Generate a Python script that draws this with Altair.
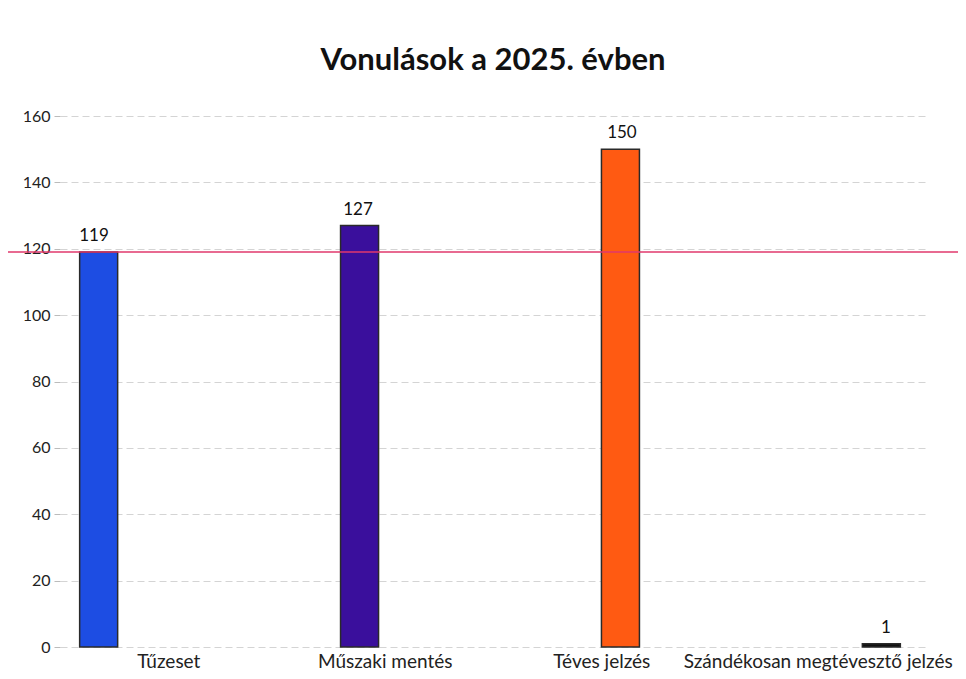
import altair as alt
import pandas as pd

categories = ["Tűzeset", "Műszaki mentés", "Téves jelzés", "Szándékosan megtévesztő jelzés"]
values = [119, 127, 150, 1]
positions = [0, 1, 2, 3]
colors = ["#1d4de3", "#3a0f9c", "#ff5a12", "#111111"]
reference_value = [119]
y_ticks = [0, 20, 40, 60, 80, 100, 120, 140, 160]

df = pd.DataFrame({"cat": categories, "value": values, "idx": positions})
ref_df = pd.DataFrame({"ref": reference_value})

W, H = 866, 531
FONT = "Lato"

y_enc = alt.Y(
    "value:Q",
    scale=alt.Scale(domain=[0, 160], nice=False),
    axis=alt.Axis(
        title=None, values=y_ticks, grid=True, gridColor="#d4d4d4", gridDash=[7, 4],
        gridWidth=1, domain=False, ticks=True, tickColor="#bbbbbb", tickSize=6,
        labelFont=FONT, labelFontSize=16, labelColor="#222222", labelPadding=4,
    ),
)
x_bar = alt.X("idx:Q", scale=alt.Scale(domain=[-0.129, 3.152], nice=False, zero=False), axis=None)

bars = alt.Chart(df).mark_bar(size=38, stroke="#2a2a2a", strokeWidth=1.5).encode(
    x=x_bar,
    y=y_enc,
    color=alt.Color("cat:N", scale=alt.Scale(domain=categories, range=colors), legend=None),
)

labels = alt.Chart(df).mark_text(baseline="alphabetic", dy=-11, font=FONT, fontSize=17, color="#111111").encode(
    x=x_bar,
    y=alt.Y("value:Q"),
    text="value:Q",
)

axis_layer = alt.Chart(df).mark_point(opacity=0).encode(
    x=alt.X(
        "cat:N", sort=categories,
        scale=alt.Scale(paddingInner=0, paddingOuter=0),
        axis=alt.Axis(
            title=None, labelAngle=0, domain=False, ticks=False, grid=False, gridOpacity=0,
            labelPadding=5, labelFont=FONT, labelFontSize=19, labelColor="#222222",
            labelOverlap=False, labelLimit=400, orient="bottom",
        ),
    ),
    y=alt.Y("value:Q"),
)

rule = alt.Chart(ref_df).mark_rule(color="#e0386c", strokeWidth=1.5).encode(
    y=alt.Y("ref:Q"),
    x=alt.value(-52),
    x2=alt.value(W + 32),
)

chart = (
    alt.layer(axis_layer, bars, labels, rule)
    .resolve_scale(x="independent")
    .properties(
        width=W,
        height=H,
        view=alt.ViewBackground(stroke="transparent", strokeWidth=0),
        title=alt.TitleParams(
            "Vonulások a 2025. évben", fontSize=31, font=FONT, fontWeight="bold",
            anchor="middle", offset=31, color="#111111",
        ),
        autosize=alt.AutoSizeParams(type="none"),
        padding={"left": 52, "top": 108, "right": 32, "bottom": 25},
    )
    .configure_view(strokeWidth=0, stroke="transparent")
    .configure_axisX(grid=False)
    .configure(background="white")
)

chart.save("out.html", embed_options={"renderer": "svg", "actions": False})
